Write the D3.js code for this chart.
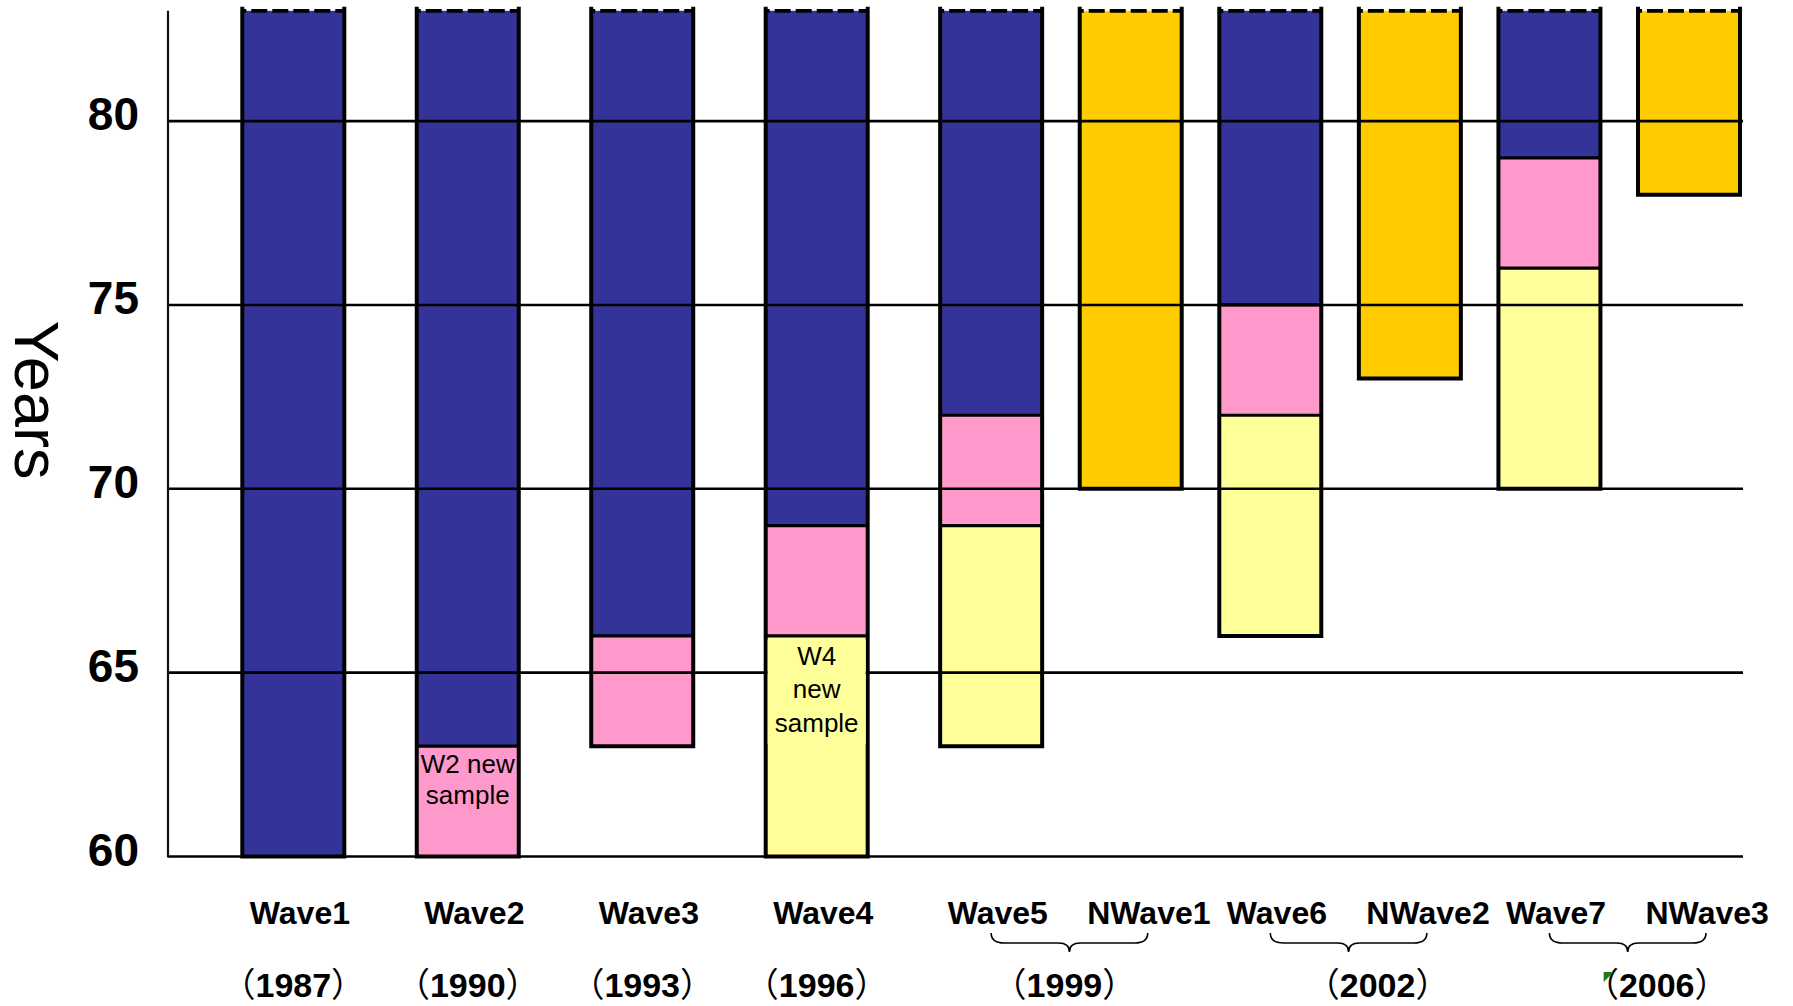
<!DOCTYPE html>
<html>
<head>
<meta charset="utf-8">
<script src="https://cdn.jsdelivr.net/npm/d3@7"></script>
<style>
  html, body { margin: 0; padding: 0; background: #ffffff; }
  svg { display: block; }
  text { font-family: "Liberation Sans", Arial, sans-serif; fill: #000; }
</style>
</head>
<body>
<svg id="chart" width="1793" height="1006"></svg>
<script>
// Survey waves, left to right
const categories = ["Wave1", "Wave2", "Wave3", "Wave4", "Wave5", "NWave1", "Wave6", "NWave2", "Wave7", "NWave3"];
// Fieldwork year of each wave group
const surveyYears = ["1987", "1990", "1993", "1996", "1999", "2002", "2006"];
const yearGroups = [["Wave1"], ["Wave2"], ["Wave3"], ["Wave4"], ["Wave5", "NWave1"], ["Wave6", "NWave2"], ["Wave7", "NWave3"]];

// Lowest age of each cohort in each wave (null = cohort not in that wave)
const originalLow = [60, 63, 66, 69, 72, null, 75, null, 79, null];
const w2NewLow    = [null, 60, 63, 66, 69, null, 72, null, 76, null];
const w4NewLow    = [null, null, null, 60, 63, null, 66, null, 70, null];
const nearOldLow  = [null, null, null, null, null, 70, null, 73, null, 78];
// Open-ended upper age shown at the top of the axis
const ageCap = 83;

const yTicks = [60, 65, 70, 75, 80];

const cohorts = [
  { key: "w4", lows: w4NewLow,   color: "#FFFF99" },
  { key: "w2", lows: w2NewLow,   color: "#FF99CC" },
  { key: "orig", lows: originalLow, color: "#333399" },
  { key: "near", lows: nearOldLow, color: "#FFCC00" }
];

// In-bar notes
const barNotes = [
  { wave: "Wave2", cohort: "w2", lines: ["W2 new", "sample"], boxed: false },
  { wave: "Wave4", cohort: "w4", lines: ["W4", "new", "sample"], boxed: true }
];

const svg = d3.select("#chart");

// Waves from Wave5 on are packed closer together
const slotOf = i => (i <= 4 ? i : 4 + (i - 4) * 0.8);
const x = d3.scaleLinear().domain([0, 8]).range([293.3, 1689]);
const xc = name => x(slotOf(categories.indexOf(name)));
const y = d3.scaleLinear().domain([60, ageCap]).range([856.5, 10.8]);

const halfW = 51;
const plotLeft = 168, plotRight = 1743;

// Build the stacked age segments of each wave
const segments = [];
categories.forEach((cat, i) => {
  const present = cohorts.filter(c => c.lows[i] != null).sort((a, b) => a.lows[i] - b.lows[i]);
  present.forEach((c, j) => {
    const lo = c.lows[i];
    const hi = j + 1 < present.length ? present[j + 1].lows[i] : ageCap;
    segments.push({ cat, cohort: c.key, color: c.color, lo, hi });
  });
});

// Segment fills
svg.append("g").selectAll("rect").data(segments).join("rect")
  .attr("x", d => xc(d.cat) - halfW)
  .attr("width", halfW * 2)
  .attr("y", d => y(d.hi))
  .attr("height", d => y(d.lo) - y(d.hi))
  .attr("fill", d => d.color);

// Boundaries between cohorts inside a bar
const inner = segments.filter(d => d.hi < ageCap);
svg.append("g").selectAll("line").data(inner).join("line")
  .attr("x1", d => xc(d.cat) - halfW)
  .attr("x2", d => xc(d.cat) + halfW)
  .attr("y1", d => y(d.hi))
  .attr("y2", d => y(d.hi))
  .attr("stroke", "#000")
  .attr("stroke-width", 3.2);

// Bar outlines: solid sides and bottom, dashed open top
const bars = categories.map((cat, i) => {
  const lows = cohorts.map(c => c.lows[i]).filter(v => v != null);
  return { cat, lo: d3.min(lows), hi: ageCap };
});
const outline = svg.append("g");
outline.selectAll("path").data(bars).join("path")
  .attr("d", d => {
    const l = xc(d.cat) - halfW, r = xc(d.cat) + halfW;
    return `M${l},${y(d.hi) - 2}V${y(d.lo)}H${r}V${y(d.hi) - 2}`;
  })
  .attr("fill", "none")
  .attr("stroke", "#000")
  .attr("stroke-width", 4)
  .attr("stroke-linejoin", "miter")
  .attr("stroke-linecap", "square");
outline.selectAll("line").data(bars).join("line")
  .attr("x1", d => xc(d.cat) - halfW)
  .attr("x2", d => xc(d.cat) + halfW)
  .attr("y1", d => y(d.hi))
  .attr("y2", d => y(d.hi))
  .attr("stroke", "#000")
  .attr("stroke-width", 3.8)
  .attr("stroke-dasharray", "16 5")
  .attr("stroke-dashoffset", 12);

// Horizontal grid lines (drawn over the bars)
svg.append("g").selectAll("line").data(yTicks).join("line")
  .attr("x1", plotLeft)
  .attr("x2", plotRight)
  .attr("y1", d => y(d))
  .attr("y2", d => y(d))
  .attr("stroke", "#000")
  .attr("stroke-width", 2.6);

// Vertical axis line
svg.append("line")
  .attr("x1", plotLeft).attr("x2", plotLeft)
  .attr("y1", y(ageCap)).attr("y2", y(60) + 1)
  .attr("stroke", "#111")
  .attr("stroke-width", 2.2);

// Y tick labels
const yAxis = d3.axisLeft(y).tickValues(yTicks).tickSize(0).tickPadding(29).tickFormat(d3.format("d"));
const yg = svg.append("g").attr("transform", `translate(${plotLeft},0)`).call(yAxis);
yg.select(".domain").remove();
yg.selectAll("text")
  .attr("font-family", "'Liberation Sans', Arial, sans-serif")
  .attr("font-size", 46)
  .attr("font-weight", "bold")
  .attr("fill", "#000")
  .attr("dy", "0.19em");

// Axis title
svg.append("text")
  .attr("transform", "translate(15,400) rotate(90)")
  .attr("text-anchor", "middle")
  .attr("font-size", 63)
  .text("Years");

// In-bar notes (the W4 note sits on its own filled box over the grid line)
barNotes.forEach(n => {
  const seg = segments.find(s => s.cat === n.wave && s.cohort === n.cohort);
  const cx = xc(n.wave);
  const top = y(seg.hi);
  if (n.boxed) {
    svg.append("rect")
      .attr("x", cx - halfW + 2).attr("width", halfW * 2 - 4)
      .attr("y", top + 4).attr("height", 104)
      .attr("fill", seg.color);
  }
  const t = svg.append("text")
    .attr("text-anchor", "middle")
    .attr("font-size", 26)
    .attr("x", cx)
    .attr("y", top + (n.boxed ? 29 : 27));
  n.lines.forEach((line, k) => {
    t.append("tspan").attr("x", cx).attr("dy", k === 0 ? 0 : (n.boxed ? 33.5 : 31)).text(line);
  });
});

// Wave names
svg.append("g").selectAll("text").data(categories).join("text")
  .attr("x", d => xc(d) - 43.5)
  .attr("y", 924)
  .attr("font-size", 32)
  .attr("font-weight", "bold")
  .text(d => d);

// Braces joining waves fielded in the same year
const pairs = yearGroups.filter(g => g.length === 2);
const braceTop = 933, braceMid = 943, braceTip = 952;
svg.append("g").selectAll("path").data(pairs).join("path")
  .attr("d", g => {
    const x0 = xc(g[0]), x1 = xc(g[1]) + 17, xm = (x0 + x1) / 2;
    return `M${x0},${braceTop}Q${x0},${braceMid} ${x0 + 13},${braceMid}` +
           `L${xm - 11},${braceMid}Q${xm},${braceMid} ${xm},${braceTip}` +
           `Q${xm},${braceMid} ${xm + 11},${braceMid}` +
           `L${x1 - 13},${braceMid}Q${x1},${braceMid} ${x1},${braceTop}`;
  })
  .attr("fill", "none")
  .attr("stroke", "#000")
  .attr("stroke-width", 1.6);

// Year labels, centred under their wave or brace (hand-set nudges for the paired years)
const yearNudge = { "1999": -5, "2002": 29, "2006": 29 };
const yearX = (g, yr) => {
  const base = g.length === 1 ? xc(g[0]) : (xc(g[0]) + xc(g[1]) + 17) / 2;
  return base + (yearNudge[yr] || 0);
};
const yl = svg.append("g").selectAll("text").data(surveyYears).join("text")
  .attr("x", (yr, i) => yearX(yearGroups[i], yr))
  .attr("y", 997)
  .attr("text-anchor", "middle")
  .attr("font-size", 34)
  .attr("font-weight", "bold");
yl.append("tspan").attr("font-family", "'Noto Sans CJK SC'").attr("font-weight", "normal").text("（");
yl.append("tspan").text(d => d);
yl.append("tspan").attr("font-family", "'Noto Sans CJK SC'").attr("font-weight", "normal").text("）");

// Small green tick by the last year label
const lastX = yearX(yearGroups[6], "2006");
svg.append("path")
  .attr("d", `M${lastX - 53},972L${lastX - 43},972L${lastX - 53},982Z`)
  .attr("fill", "#1e7a1e");
</script>
</body>
</html>
